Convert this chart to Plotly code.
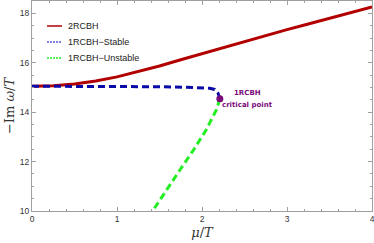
import plotly.graph_objects as go

# 2RCBH
mu_2r = [0, 0.25, 0.5, 0.75, 1.0, 1.25, 1.5, 1.75, 2.0, 2.25, 2.5, 2.75, 3.0, 3.25, 3.5, 3.75, 4.0]
im_2r = [15.05, 15.07, 15.14, 15.26, 15.43, 15.64, 15.87, 16.12, 16.37, 16.62, 16.87, 17.11, 17.34, 17.57, 17.8, 18.03, 18.26]

# 1RCBH stable
mu_st = [0, 0.5, 1.0, 1.5, 1.8, 2.0, 2.09, 2.15, 2.19, 2.21]
im_st = [15.05, 15.05, 15.04, 15.03, 15.01, 14.99, 14.97, 14.92, 14.76, 14.54]

# 1RCBH unstable
mu_un = [2.21, 2.17, 2.05, 1.90, 1.74, 1.58, 1.42, 1.38]
im_un = [14.54, 14.1, 13.29, 12.47, 11.66, 10.85, 10.0, 9.8]

# critical point
mu_cp = [2.21]
im_cp = [14.54]

legend_names = ["2RCBH", "1RCBH\u2212Stable", "1RCBH\u2212Unstable"]

red = "#b20000"
blue = "#0a0aa8"
green = "#22ee22"
purple = "#7b0a7b"

fig = go.Figure()
fig.add_trace(go.Scatter(x=mu_2r, y=im_2r, mode="lines", line=dict(color=red, width=3), showlegend=False, hoverinfo="skip"))
fig.add_trace(go.Scatter(x=mu_st, y=im_st, mode="lines", line=dict(color=blue, width=3, dash="7px,4px"), showlegend=False, hoverinfo="skip"))
fig.add_trace(go.Scatter(x=mu_un, y=im_un, mode="lines", line=dict(color=green, width=3, dash="7px,4px"), showlegend=False, hoverinfo="skip"))
fig.add_trace(go.Scatter(x=mu_cp, y=im_cp, mode="markers", marker=dict(color=purple, size=7), showlegend=False, hoverinfo="skip"))

# manual legend (plot area: x 32..372 px, y 1..211 px)
def px_x(p):
    return (p - 32) / 340.0

def px_y(p):
    return (211 - p) / 210.0

leg_styles = [dict(color=red, width=1.5),
              dict(color="#5a5ae0", width=1.5, dash="2px,1px"),
              dict(color=green, width=1.5, dash="2px,1px")]
leg_rows = [26, 42, 58]
for name, style, row in zip(legend_names, leg_styles, leg_rows):
    fig.add_shape(type="line", xref="paper", yref="paper",
                  x0=px_x(47), x1=px_x(62), y0=px_y(row), y1=px_y(row), line=style)
    fig.add_annotation(xref="paper", yref="paper", x=px_x(66), y=px_y(row), text=name,
                       xanchor="left", yanchor="middle", showarrow=False,
                       font=dict(family="Liberation Sans", size=9, color="#222222"))

fig.add_annotation(x=2.54, y=14.78, text="<b>1RCBH</b>", showarrow=False,
                   font=dict(family="DejaVu Sans", size=7, color=purple))
fig.add_annotation(x=2.54, y=14.29, text="<b>critical point</b>", showarrow=False,
                   font=dict(family="DejaVu Sans", size=7, color=purple))

axis_common = dict(showline=True, linecolor="#a0a0a0", linewidth=1, mirror="ticks",
                   ticks="inside", ticklen=4, tickcolor="#a0a0a0", showgrid=False, zeroline=False,
                   automargin=False, ticklabeloverflow="allow",
                   tickfont=dict(family="Liberation Sans", size=8.5, color="#333333"))

fig.update_xaxes(range=[0, 4], dtick=1, tick0=0,
                 minor=dict(ticks="inside", ticklen=2, dtick=0.2, tickcolor="#a0a0a0"),
                 title=dict(text="<i>μ</i>/<i>T</i>", font=dict(family="DejaVu Serif", size=13, color="#333333"), standoff=4),
                 **axis_common)
fig.update_yaxes(range=[10, 18.5], dtick=2, tick0=10,
                 minor=dict(ticks="inside", ticklen=2, dtick=0.5, tickcolor="#a0a0a0"),
                 title=dict(text="\u2212Im <i>ω</i>/<i>T</i>", font=dict(family="DejaVu Serif", size=13, color="#333333"), standoff=2),
                 **axis_common)

fig.update_layout(width=374, height=243, margin=dict(l=32, r=2, t=1, b=32),
                  plot_bgcolor="white", paper_bgcolor="white", showlegend=False,
                  hovermode=False)

fig.write_html("out.html", config={"displayModeBar": False, "staticPlot": True},
               post_script="document.body.style.margin='0';document.body.style.overflow='hidden';")
